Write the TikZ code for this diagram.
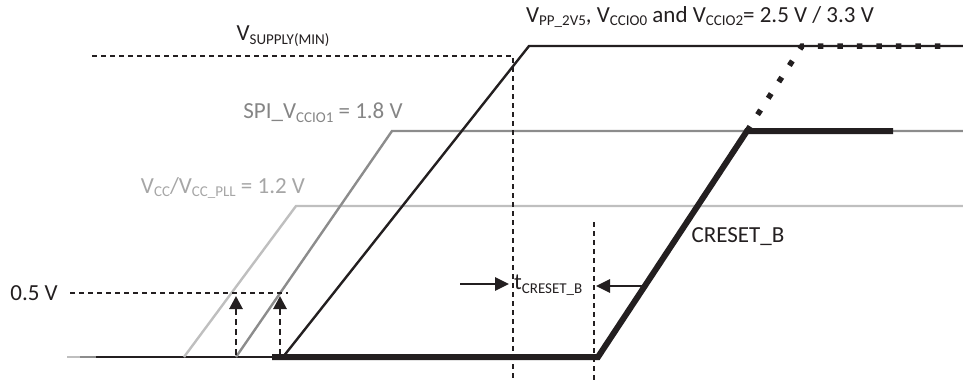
\documentclass[tikz,border=0pt]{standalone}
\usepackage{fontspec}
\setmainfont{Carlito}
\usetikzlibrary{positioning,arrows.meta}
\definecolor{railblack}{HTML}{231F20}
\definecolor{railmid}{HTML}{8C8C8C}
\definecolor{raillight}{HTML}{BFBFBF}
\definecolor{textmid}{HTML}{858585}
\definecolor{textlight}{HTML}{A6A6A6}
\newcommand{\subtxt}[1]{\raisebox{-0.35ex}{\fontsize{15}{15}\selectfont #1}}
\tikzset{
    railthin/.style={line width=2.4pt},
    railthick/.style={line width=6pt, railblack},
    raildots/.style={line width=5.5pt, railblack, dash pattern=on 5.5pt off 14pt},
    levelline/.style={line width=1.2pt, railblack, dash pattern=on 5pt off 4pt},
    sensearrow/.style={line width=2.8pt, railblack, dash pattern=on 6pt off 4pt,
        -{Triangle[length=13pt,width=13pt]}},
    timearrow/.style={line width=2.8pt, railblack, -{Triangle[length=14pt,width=13pt]}},
    lbl/.style={font=\fontsize{23}{27}\selectfont, inner sep=0pt, text=railblack}
}

\begin{document}
\begin{tikzpicture}[x=1pt, y=-1pt]
    \useasboundingbox (0,0) rectangle (963,381);

    % ground level
    \coordinate (g0) at (67,357);
    \coordinate (g1) at (80,357);
    \coordinate (g2) at (96,357);
    \coordinate (g3) at (272,357);
    \draw[railthin, raillight] (g0) -- (g1);
    \draw[railthin, railmid] (g1) -- (g2);
    \draw[railthin, railblack] (g2) -- (g3);

    % VCC / VCC_PLL
    \coordinate (cc0) at (184,357);
    \coordinate (cc1) at (296,206);
    \coordinate (cc2) at (963,206);
    \draw[railthin, raillight] (cc0) -- (cc1) -- (cc2);

    % SPI_VCCIO1
    \coordinate (spi0) at (236,357);
    \coordinate (spi1) at (392,131);
    \coordinate (spi2) at (963,131);
    \draw[railthin, railmid] (spi0) -- (spi1) -- (spi2);

    % VPP_2V5, VCCIO0, VCCIO2
    \coordinate (pp0) at (283,357);
    \coordinate (pp1) at (529,46);
    \coordinate (pp2) at (963,46);
    \draw[railthin, railblack] (pp0) -- (pp1) -- (pp2);

    % CRESET_B
    \coordinate (cr0) at (272,357);
    \coordinate (cr1) at (598,357);
    \coordinate (cr2) at (747,131);
    \coordinate (cr3) at (893,131);
    \coordinate (cr4) at (802,46);
    \coordinate (cr5) at (945,46);
    \draw[railthick] (cr0) -- (cr1) -- (cr2) -- (cr3);
    \draw[raildots] (cr2) -- (cr4) -- (cr5);

    % levels and markers
    \coordinate (sup0) at (92,56);
    \coordinate (sup1) at (513,56);
    \coordinate (sup2) at (513,381);
    \draw[levelline] (sup0) -- (sup1) -- (sup2);
    \coordinate (rel0) at (594,222);
    \coordinate (rel1) at (594,381);
    \draw[levelline] (rel0) -- (rel1);
    \coordinate (half0) at (70,293);
    \coordinate (half1) at (288,293);
    \draw[levelline] (half0) -- (half1);

    \coordinate (up0a) at (236,355);
    \coordinate (up0b) at (236,296);
    \coordinate (up1a) at (280,355);
    \coordinate (up1b) at (280,296);
    \draw[sensearrow] (up0a) -- (up0b);
    \draw[sensearrow] (up1a) -- (up1b);

    \coordinate (tl0) at (460,284);
    \coordinate (tl1) at (509,284);
    \coordinate (tr0) at (643,286);
    \coordinate (tr1) at (596,286);
    \draw[timearrow] (tl0) -- (tl1);
    \draw[timearrow] (tr0) -- (tr1);

    % labels
    \node[lbl] (supply) at (283,36) {V\subtxt{SUPPLY(MIN)}};
    \node[lbl] (vpp) at (700,17) {V\subtxt{PP\_2V5}, V\subtxt{CCIO0} and V\subtxt{CCIO2}= 2.5 V / 3.3 V};
    \node[lbl, text=textmid] (spi) at (323,113) {SPI\_V\subtxt{CCIO1} = 1.8 V};
    \node[lbl, text=textlight] (vcc) at (223,188) {V\subtxt{CC}/V\subtxt{CC\_PLL} = 1.2 V};
    \node[lbl, left=12pt of half0] (half) {0.5 V};
    \node[lbl] (creset) at (738,237) {CRESET\_B};
    \node[lbl, anchor=west] (tcr) at (514,285) {t\subtxt{CRESET\_B}};
\end{tikzpicture}
\end{document}
